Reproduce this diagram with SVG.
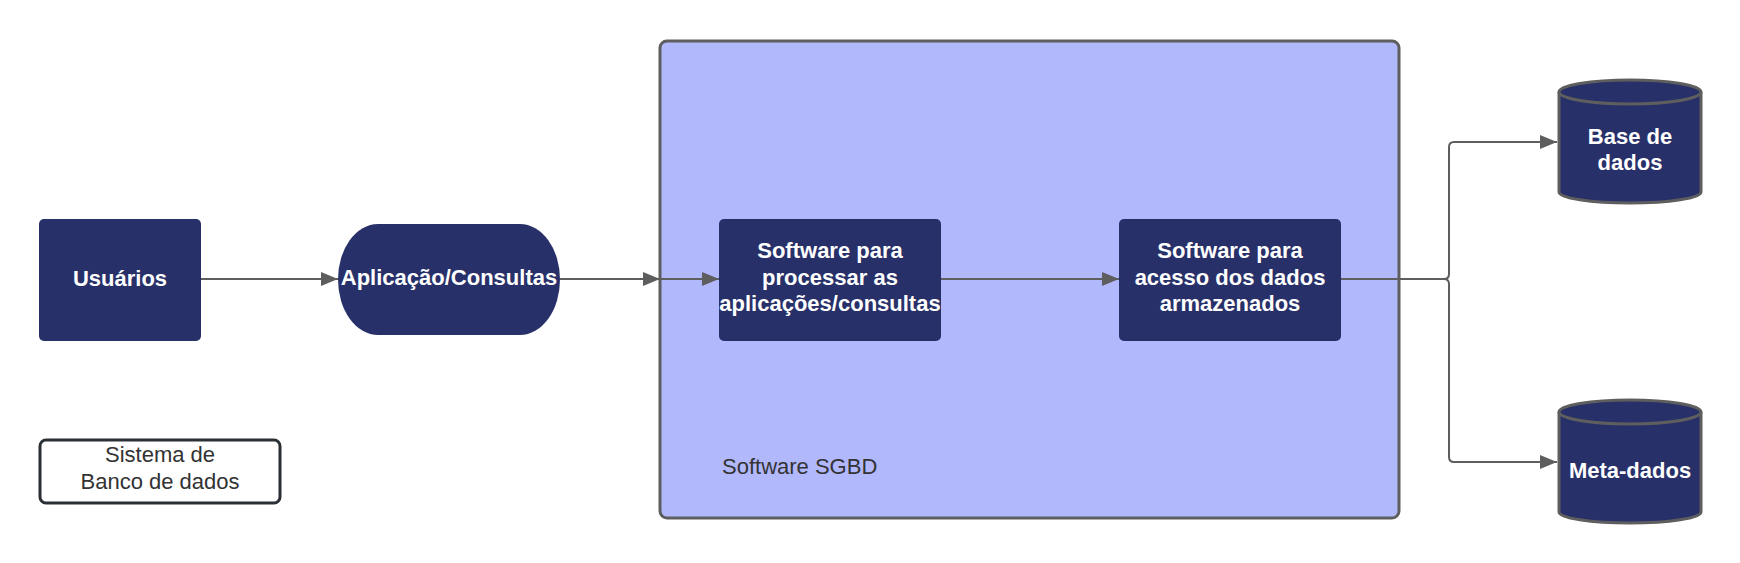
<svg xmlns="http://www.w3.org/2000/svg" width="1740" height="563" viewBox="0 0 1740 563">
<style>
.node{fill:#283069;}
.cyl{fill:#283069;stroke:#5e5e5e;stroke-width:3;}
.lbl{font-family:"Liberation Sans",Arial,sans-serif;font-size:22px;font-weight:bold;fill:#ffffff;text-anchor:middle;}
.plain{font-family:"Liberation Sans",Arial,sans-serif;font-size:22px;fill:#333333;}
.conn{fill:none;stroke:#5e5e5e;stroke-width:2;}
</style>
<defs>
<marker id="arr" markerUnits="userSpaceOnUse" markerWidth="18" markerHeight="14" refX="17" refY="7" orient="auto">
<path d="M0,0 L17,7 L0,14 Z" fill="#5e5e5e"/>
</marker>
</defs>
<rect width="1740" height="563" fill="#ffffff"/>
<g id="sgbd">
<rect x="660" y="41" width="739" height="477" rx="7" fill="#b1b8fc" stroke="#5e5e5e" stroke-width="3"/>
<text class="plain" x="722" y="474">Software SGBD</text>
</g>
<g id="usuarios">
<rect class="node" x="39" y="219" width="162" height="122" rx="5"/>
<text class="lbl" x="120" y="286">Usuários</text>
</g>
<g id="aplicacao">
<path class="node" d="M378,224 H520 A40,55.5 0 0 1 520,335 H378 A40,55.5 0 0 1 378,224 Z"/>
<text class="lbl" x="449" y="285">Aplicação/Consultas</text>
</g>
<g id="processar">
<rect class="node" x="719" y="219" width="222" height="122" rx="5"/>
<text class="lbl" x="830" y="258">Software para</text>
<text class="lbl" x="830" y="284.5">processar as</text>
<text class="lbl" x="830" y="311">aplicações/consultas</text>
</g>
<g id="acesso">
<rect class="node" x="1119" y="219" width="222" height="122" rx="5"/>
<text class="lbl" x="1230" y="258">Software para</text>
<text class="lbl" x="1230" y="284.5">acesso dos dados</text>
<text class="lbl" x="1230" y="311">armazenados</text>
</g>
<g id="base">
<path class="cyl" d="M1559,92 A71,12 0 0 1 1701,92 V192 A71,11 0 0 1 1559,192 Z"/>
<path class="cyl" d="M1559,92 A71,12 0 0 0 1701,92" fill="none"/>
<text class="lbl" x="1630" y="144">Base de</text>
<text class="lbl" x="1630" y="170">dados</text>
</g>
<g id="meta">
<path class="cyl" d="M1559,412 A71,12 0 0 1 1701,412 V512 A71,11 0 0 1 1559,512 Z"/>
<path class="cyl" d="M1559,412 A71,12 0 0 0 1701,412" fill="none"/>
<text class="lbl" x="1630" y="478">Meta-dados</text>
</g>
<g id="legenda">
<rect x="40" y="440" width="240" height="63" rx="6" fill="#ffffff" stroke="#2b2f36" stroke-width="3"/>
<text class="plain" x="160" y="462" text-anchor="middle">Sistema de</text>
<text class="plain" x="160" y="489" text-anchor="middle">Banco de dados</text>
</g>
<g id="connectors">
<path class="conn" d="M201,279 H338" marker-end="url(#arr)"/>
<path class="conn" d="M560,279 H660" marker-end="url(#arr)"/>
<path class="conn" d="M660,279 H719" marker-end="url(#arr)"/>
<path class="conn" d="M941,279 H1119" marker-end="url(#arr)"/>
<path class="conn" d="M1341,279 H1444 Q1449,279 1449,274 V147 Q1449,142 1454,142 H1557" marker-end="url(#arr)"/>
<path class="conn" d="M1341,279 H1444 Q1449,279 1449,284 V457 Q1449,462 1454,462 H1557" marker-end="url(#arr)"/>
</g>
</svg>
